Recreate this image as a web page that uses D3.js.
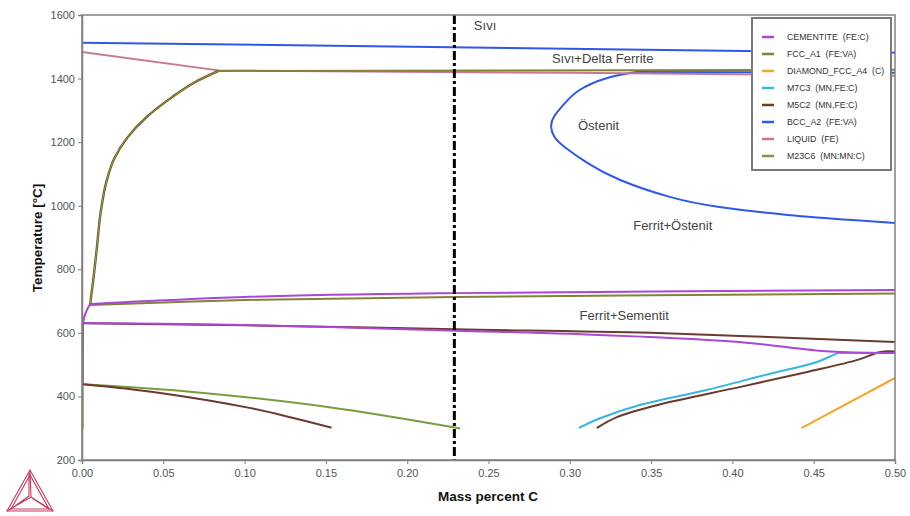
<!DOCTYPE html>
<html><head><meta charset="utf-8">
<script src="https://cdn.jsdelivr.net/npm/d3@7"></script>
<style>body{margin:0;background:#fff}svg{display:block;font-family:"Liberation Sans",Arial,sans-serif}</style>
</head><body><svg id="c" width="910" height="516"></svg>
<script>
// ---- data (mass % C, temperature °C) ----
const xTicks = [0,0.05,0.10,0.15,0.20,0.25,0.30,0.35,0.40,0.45,0.50];
const yTicks = [200,400,600,800,1000,1200,1400,1600];
const legendNames = ["CEMENTITE  (FE:C)","FCC_A1  (FE:VA)","DIAMOND_FCC_A4  (C)","M7C3  (MN,FE:C)","M5C2  (MN,FE:C)","BCC_A2  (FE:VA)","LIQUID  (FE)","M23C6  (MN:MN:C)"];
const legendColors = ["#a848d4","#85803a","#f5a52a","#36b4e4","#6a3a30","#2f57ea","#c77a8c","#7a9c3c"];
const regionLabels = [["Sıvı",0.241,1553],["Sıvı+Delta Ferrite",0.289,1449],["Östenit",0.305,1238],["Ferrit+Östenit",0.339,924],["Ferrit+Sementit",0.306,640]];
const markerC = 0.229;

const bccTop = [[0,1513],[0.5,1481]];
const bccTie = [[0.341,1421],[0.42,1420],[0.5,1418]];
const bccLoop = [[0.341,1421],[0.323,1402],[0.306,1364],[0.2965,1320],[0.2905,1282],[0.2885,1250],[0.2905,1217],[0.297,1184],[0.311,1134],[0.331,1081],[0.362,1027],[0.392,996],[0.434,971],[0.474,955],[0.5,946]];
const liquid = [[0,1484],[0.085,1425],[0.3,1418],[0.5,1409]];
const fccUpper = [[0.084,1424],[0.070,1390],[0.055,1340],[0.040,1280],[0.028,1215],[0.020,1150],[0.015,1075],[0.0115,980],[0.009,860],[0.007,770],[0.005,689]];
const fccTie = [[0.084,1424],[0.5,1428]];
const fccEutectoid = [[0.005,688],[0.1,703],[0.23,713],[0.5,724]];
const fccLeft = [[0.0004,438],[0.0004,300]];
const cemUpper = [[0.005,691],[0.1,713],[0.23,725],[0.5,735]];
const cemLeft = [[0.0006,631],[0.002,660],[0.005,691]];
const cemLower = [[0.0006,631],[0.1,625],[0.23,607],[0.3,597],[0.4,573],[0.46,541],[0.5,537]];
const m5c2Upper = [[0.0006,630],[0.1,624],[0.23,611],[0.35,600],[0.5,571]];
const m5c2Left = [[0.0005,628],[0.0004,438]];
const m5c2Low = [[0.0004,438],[0.048,411],[0.103,364],[0.130,332],[0.153,302]];
const m5c2Right = [[0.317,302],[0.329,335],[0.354,373],[0.405,430],[0.446,477],[0.477,515],[0.491,540],[0.5,541]];
const m23c6 = [[0.0004,438],[0.068,414],[0.151,367],[0.232,300]];
const m7c3 = [[0.306,302],[0.319,332],[0.343,373],[0.384,420],[0.425,474],[0.450,505],[0.462,530],[0.465,537]];
const m7c3Tie = [[0.465,537],[0.5,537]];
const diamond = [[0.443,302],[0.5,458]];

// ---- drawing ----
const svg = d3.select("#c");
const L=82,R=895,T=15,B=460;
const x = d3.scaleLinear().domain([0,0.5]).range([L,R]);
const y = d3.scaleLinear().domain([200,1600]).range([B,T]);

svg.append("clipPath").attr("id","clip").append("rect").attr("x",L).attr("y",T).attr("width",R-L).attr("height",B-T);

const smooth = d3.line().x(d=>x(d[0])).y(d=>y(d[1])).curve(d3.curveCatmullRom.alpha(0.5));
const natural = d3.line().x(d=>x(d[0])).y(d=>y(d[1])).curve(d3.curveNatural);
const monoY = d3.line().x(d=>x(d[0])).y(d=>y(d[1])).curve(d3.curveMonotoneY);
const straight = d3.line().x(d=>x(d[0])).y(d=>y(d[1]));
const g = svg.append("g").attr("clip-path","url(#clip)");
function draw(data,color,gen,w){
  g.append("path").attr("d",gen(data)).attr("fill","none")
   .attr("stroke",color).attr("stroke-width",w||2).attr("stroke-linejoin","round").attr("stroke-linecap","round");
}
const C = {cem:legendColors[0],fcc:legendColors[1],dia:legendColors[2],m7:legendColors[3],m5:legendColors[4],bcc:legendColors[5],liq:legendColors[6],m23:legendColors[7]};
draw(m23c6,C.m23,smooth);
draw(fccLeft,C.m23,straight);
draw(m5c2Left,C.m5,straight);
draw(m5c2Low,C.m5,smooth);
draw(m5c2Right,C.m5,smooth);
draw(m7c3,C.m7,smooth);
draw(m7c3Tie,C.m7,straight);
draw(diamond,C.dia,straight);
draw(bccTop,C.bcc,straight);
draw(bccTie,C.bcc,straight);
draw(bccLoop,C.bcc,natural);
draw(liquid,C.liq,straight);
draw(fccUpper,"#5a5020",monoY,2.4);
draw(fccUpper,"#a8a040",monoY,1);
draw(fccTie,C.fcc,straight);
draw(fccEutectoid,C.fcc,smooth);
draw(m5c2Upper,C.m5,smooth);
draw(cemLeft,C.cem,smooth);
draw(cemUpper,C.cem,smooth);
draw(cemLower,C.cem,smooth);

// marker line (dash-dot)
svg.append("line").attr("x1",x(markerC)).attr("x2",x(markerC)).attr("y1",T).attr("y2",B)
  .attr("stroke","#000").attr("stroke-width",3).attr("stroke-dasharray","9,3,3,3");

// frame
svg.append("rect").attr("x",L).attr("y",T).attr("width",R-L).attr("height",B-T)
  .attr("fill","none").attr("stroke","#808080").attr("stroke-width",1.5);

// axes
const xa = svg.append("g").attr("transform",`translate(0,${B})`)
  .call(d3.axisBottom(x).tickValues(xTicks).tickFormat(d3.format(".2f")).tickSize(4).tickPadding(5));
const ya = svg.append("g").attr("transform",`translate(${L},0)`)
  .call(d3.axisLeft(y).tickValues(yTicks).tickFormat(d3.format("d")).tickSize(4).tickPadding(3));
[xa,ya].forEach(a=>{
  a.select(".domain").attr("stroke","#808080").attr("stroke-width",1.5);
  a.selectAll(".tick line").attr("stroke","#808080");
  a.selectAll(".tick text").attr("fill","#555").style("font-size","11px").style("font-family","Liberation Sans, Arial, sans-serif");
});

svg.append("text").attr("x",488).attr("y",501).attr("text-anchor","middle")
  .style("font-size","13.5px").style("font-weight","bold").attr("fill","#111").text("Mass percent C");
svg.append("text").attr("transform","translate(42,238) rotate(-90)").attr("text-anchor","middle")
  .style("font-size","13.5px").style("font-weight","bold").attr("fill","#111").text("Temperature [°C]");

// region labels
svg.selectAll(".rl").data(regionLabels).enter().append("text")
  .attr("x",d=>x(d[1])).attr("y",d=>y(d[2])).attr("fill","#444").style("font-size","13px").text(d=>d[0]);

// legend
const lg = svg.append("g");
lg.append("rect").attr("x",752).attr("y",18).attr("width",139).attr("height",152)
  .attr("fill","#fff").attr("stroke","#7a7a7a").attr("stroke-width",2);
legendNames.forEach((n,i)=>{
  const yy = 37 + i*17;
  lg.append("line").attr("x1",762).attr("x2",774).attr("y1",yy).attr("y2",yy).attr("stroke",legendColors[i]).attr("stroke-width",2.5);
  lg.append("text").attr("x",787).attr("y",yy+3).attr("fill","#333").style("font-size","8.8px").style("white-space","pre").text(n);
});

// logo
const logo = svg.append("g").attr("fill","none").attr("stroke","#c8385e").attr("stroke-width",1.1);
logo.append("path").attr("d","M30,470 L7,511 L53,511 Z");
logo.append("path").attr("d","M30,475 L11,509 L49,509 Z");
logo.append("path").attr("d","M30,470 L31,497 M29,473 L29,496 M7,511 L31,497 M11,509 L29,496 M53,511 L31,497 M49,509 L32,498");
</script></body></html>
